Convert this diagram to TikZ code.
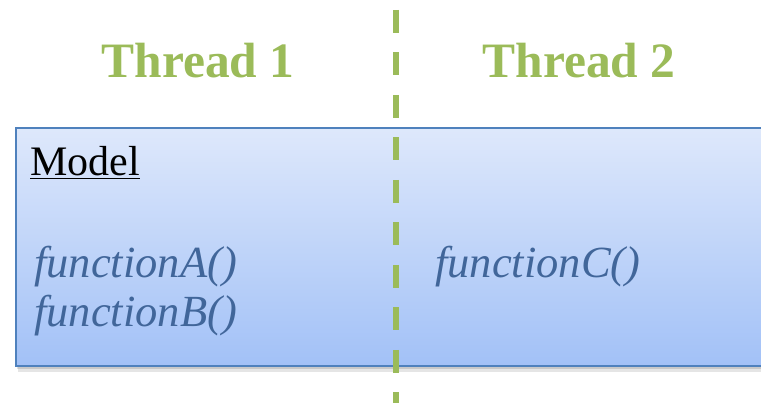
\documentclass[tikz,border=0pt]{standalone}
\usepackage{fontspec}
\setmainfont{Liberation Serif}
\usetikzlibrary{calc}
\definecolor{threadgreen}{HTML}{9BBB59}
\definecolor{boxline}{HTML}{4F81BD}
\definecolor{boxtop}{HTML}{DEE8FB}
\definecolor{boxbot}{HTML}{A2C1F7}
\definecolor{functext}{HTML}{41669A}
\tikzset{
  threadlabel/.style={text=threadgreen, font=\fontsize{49.5}{54}\selectfont\bfseries, inner sep=0pt, anchor=base},
  functext/.style={text=functext, font=\fontsize{44.5}{49}\selectfont\itshape, inner sep=0pt, anchor=base west},
  divider/.style={draw=threadgreen, line width=6pt, dash pattern=on 23pt off 19.5pt}
}
\begin{document}
\begin{tikzpicture}[x=1pt,y=-1pt]
\useasboundingbox (0,0) rectangle (761,403);
\clip (0,0) rectangle (761,403);
% shadow
\fill[black, opacity=0.10] (18,367) rectangle (780,372);
\fill[black, opacity=0.12] (17,366) rectangle (780,369);
% box
\shade[top color=boxtop, bottom color=boxbot] (16,128) rectangle (780,366);
\draw[boxline, line width=1.8pt] (16,128) rectangle (780,366);
\node[anchor=base west, inner sep=0pt, font=\fontsize{42}{46}\selectfont] (model) at (30,176) {\underline{Model}};
\node[functext] (fa) at (34,278) {functionA()};
\node[functext] (fb) at (34,327) {functionB()};
\node[functext] (fc) at (435,278) {functionC()};
% divider
\coordinate (dtop) at (396,10);
\coordinate (dbot) at (396,410);
\draw[divider] (dtop) -- (dbot);
% thread labels
\node[threadlabel] (t1) at (198,78) {Thread 1};
\node[threadlabel] (t2) at (579,78) {Thread 2};
\end{tikzpicture}
\end{document}
